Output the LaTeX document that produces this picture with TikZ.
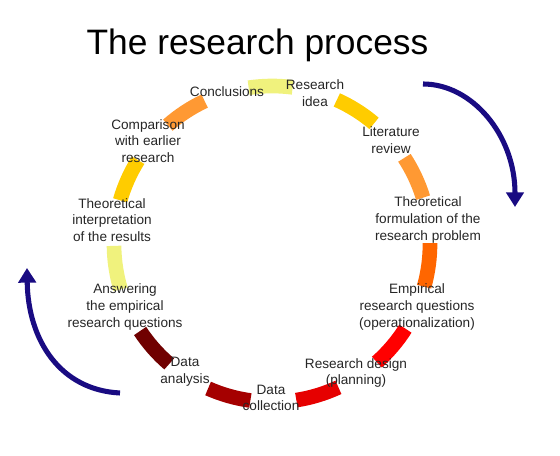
\documentclass[tikz,border=0pt]{standalone}
\usepackage{fontspec}
\setmainfont{Liberation Sans}
\usetikzlibrary{arrows.meta}
\definecolor{paleyel}{RGB}{240,242,125}
\definecolor{goldyel}{RGB}{255,204,0}
\definecolor{lightor}{RGB}{255,153,51}
\definecolor{darkor}{RGB}{255,102,0}
\definecolor{redA}{RGB}{255,0,0}
\definecolor{redB}{RGB}{230,0,0}
\definecolor{redC}{RGB}{165,0,0}
\definecolor{maroon}{RGB}{112,0,0}
\definecolor{navyarr}{RGB}{25,11,130}
\definecolor{txt}{RGB}{38,38,38}
\tikzset{seg/.style={line width=11pt},
 lbl/.style={align=center,text=txt,font=\fontsize{10.2}{12.4}\selectfont,inner sep=0pt},
 bigarr/.style={navyarr,line width=3.8pt,-{Triangle[width=13pt,length=11pt]}}}

\begin{document}
\begin{tikzpicture}[x=0.75pt,y=0.75pt]
 \useasboundingbox (0,0) rectangle (560,456);
 \coordinate (O) at (272,212);
 \begin{scope}[shift={(O)}]
  \foreach \col [count=\i from 0] in {paleyel,goldyel,lightor,darkor,redA,redB,redC,maroon,paleyel,goldyel,lightor}
   {\pgfmathsetmacro\c{90.5-32.727*\i}
    \draw[seg,\col] (\c+8:158) arc[start angle=\c+8, end angle=\c-8, radius=158];}
 \end{scope}
 \node[anchor=base,font=\fontsize{26.5}{30}\selectfont] (title) at (257.5,401) {The research process};
 \node[lbl] (idea) at (315,363) {Research\\idea};
 \node[lbl] (concl) at (227,364) {Conclusions};
 \node[lbl] (lit) at (391,316) {Literature\\review};
 \node[lbl] (theo) at (428,236) {Theoretical\\formulation of the\\research problem};
 \node[lbl] (emp) at (417,149) {Empirical\\research questions\\(operationalization)};
 \node[lbl] (design) at (356,83) {Research design\\(planning)};
 \node[lbl] (collect) at (271,58) {Data\\collection};
 \node[lbl] (anal) at (185,84) {Data\\analysis};
 \node[lbl] (answer) at (125,149) {Answering\\the empirical\\research questions};
 \node[lbl] (interp) at (112,236) {Theoretical\\interpretation\\of the results};
 \node[lbl] (compar) at (148,315) {Comparison\\with earlier\\research};
 \coordinate (rs) at (423,372); \coordinate (re) at (515,249);
 \coordinate (ls) at (120,63); \coordinate (le) at (27,188);
 \draw[bigarr] (rs) .. controls (472,372) and (515,321) .. (re);
 \draw[bigarr] (ls) .. controls (60,66) and (28,116) .. (le);
\end{tikzpicture}
\end{document}
